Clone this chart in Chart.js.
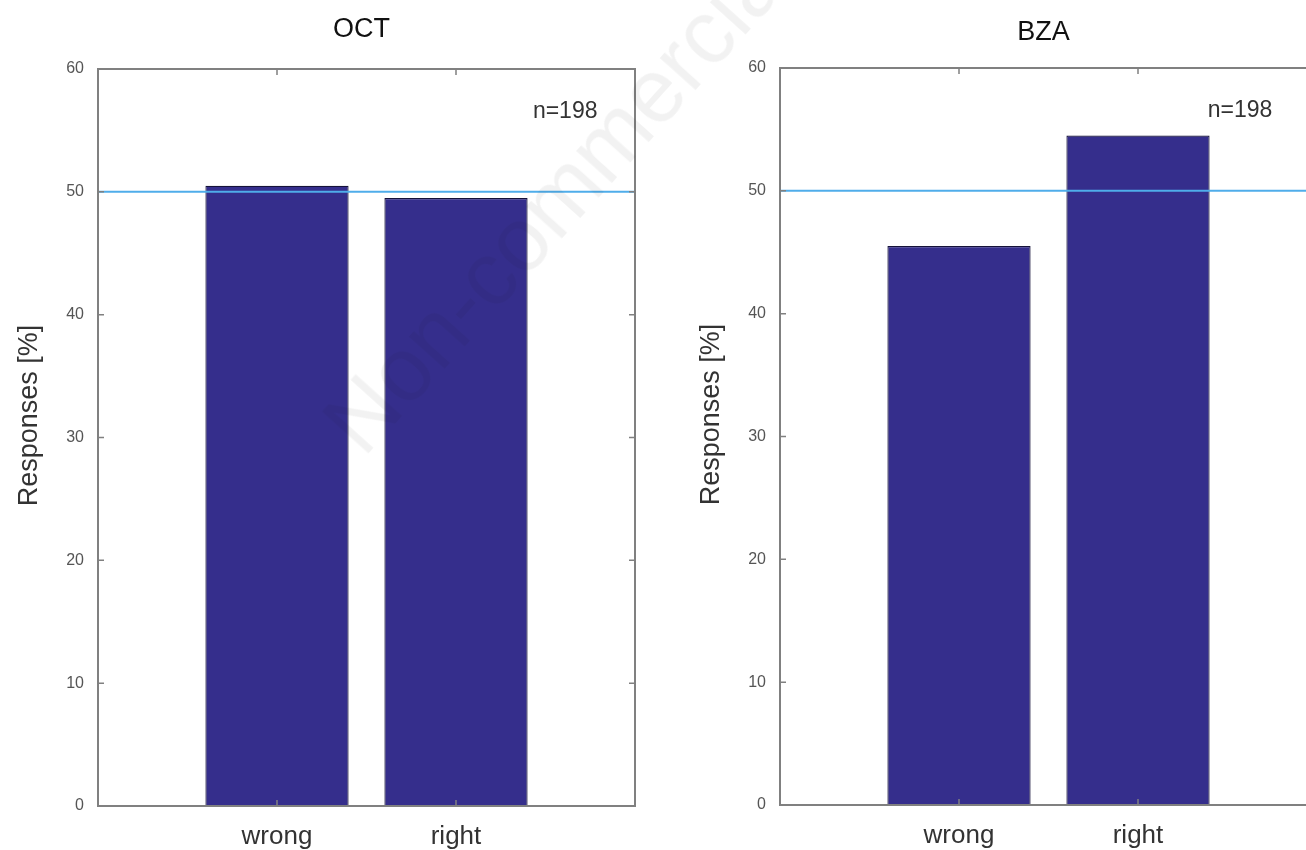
<!DOCTYPE html>
<html>
<head>
<meta charset="utf-8">
<script src="https://cdn.jsdelivr.net/npm/chart.js@4/dist/chart.umd.min.js"></script>
<style>
  html, body { margin: 0; padding: 0; background: #fff; overflow: hidden; }
  body { width: 1306px; height: 850px; position: relative; }
  .panel { position: absolute; width: 660px; height: 850px; }
  #wm {
    position: absolute; left: 560px; top: 195px;
    transform: translate(-50%, -50%) rotate(-48deg);
    font: 90px "Liberation Sans", Arial, sans-serif;
    color: rgba(0, 0, 0, 0.05); white-space: nowrap; pointer-events: none;
  }
</style>
</head>
<body>
<div class="panel" style="left:0;top:0"><canvas id="octChart"></canvas></div>
<div class="panel" style="left:682px;top:-1px"><canvas id="bzaChart"></canvas></div>
<div id="wm">Non-commercial</div>
<script>
// data
const categories = ["wrong", "right"];
const categoryPos = [1, 2];
const octValues = [50.5, 49.5];
const bzaValues = [45.5, 54.5];
const chanceLevel = 50;
const yTicks = [0, 10, 20, 30, 40, 50, 60];
const sampleLabel = "n=198";
const yLabel = "Responses [%]";

const FONT = "'Liberation Sans', Arial, sans-serif";
const AXIS_GREY = "#808080";

// MATLAB style box with inward ticks, titles and the n= label
const boxPlugin = {
  id: "matlabBox",
  afterDatasetsDraw(chart) {
    const { ctx, chartArea: a, scales } = chart;
    const o = chart.options.plugins.matlabBox;
    ctx.save();
    ctx.strokeStyle = AXIS_GREY;
    ctx.lineWidth = 2;
    ctx.strokeRect(a.left, a.top, a.right - a.left, a.bottom - a.top);
    ctx.lineWidth = 1.5;
    ctx.beginPath();
    yTicks.forEach(v => {
      const y = scales.y.getPixelForValue(v);
      ctx.moveTo(a.left, y); ctx.lineTo(a.left + 6, y);
      ctx.moveTo(a.right, y); ctx.lineTo(a.right - 6, y);
    });
    categoryPos.forEach(v => {
      const x = scales.x.getPixelForValue(v);
      ctx.moveTo(x, a.top); ctx.lineTo(x, a.top + 6);
      ctx.moveTo(x, a.bottom); ctx.lineTo(x, a.bottom - 6);
    });
    ctx.stroke();

    ctx.textAlign = "center";
    ctx.textBaseline = "middle";
    ctx.fillStyle = "#333";
    ctx.font = "23px " + FONT;
    ctx.fillText(sampleLabel, scales.x.getPixelForValue(o.noteX), scales.y.getPixelForValue(56.5));

    ctx.fillStyle = "#111";
    ctx.font = "27px " + FONT;
    ctx.fillText(o.title, (a.left + a.right) / 2 - 5, o.titleY);

    ctx.fillStyle = "#333";
    ctx.translate(30, (a.top + a.bottom) / 2 - 22);
    ctx.rotate(-Math.PI / 2);
    ctx.fillText(yLabel, 0, 0);
    ctx.restore();
  }
};

function makeChart(id, title, values, noteX, titleY) {
  const ctx = document.getElementById(id).getContext("2d");
  return new Chart(ctx, {
    type: "bar",
    data: {
      datasets: [
        {
          type: "line",
          data: [{ x: 0, y: chanceLevel }, { x: 3, y: chanceLevel }],
          borderColor: "#4fadea",
          borderWidth: 2,
          pointRadius: 0,
          order: 0
        },
        {
          type: "bar",
          data: categoryPos.map((x, i) => ({ x: x, y: values[i] })),
          backgroundColor: "#352e8c",
          borderColor: "#15123a",
          borderWidth: 1.2,
          barPercentage: 0.8,
          categoryPercentage: 1,
          order: 1
        }
      ]
    },
    plugins: [boxPlugin],
    options: {
      responsive: false,
      animation: false,
      layout: { padding: { left: 0, right: 25, top: 69, bottom: 0 } },
      plugins: {
        legend: { display: false },
        tooltip: { enabled: false },
        title: { display: false },
        matlabBox: { title: title, noteX: noteX, titleY: titleY }
      },
      scales: {
        x: {
          type: "linear",
          min: 0, max: 3,
          offset: false,
          grid: { display: false },
          border: { display: false },
          afterBuildTicks: s => { s.ticks = categoryPos.map(v => ({ value: v })); },
          afterFit: s => { s.height = 44; },
          ticks: {
            callback: v => categories[categoryPos.indexOf(v)],
            color: "#333",
            padding: 7,
            font: { family: FONT, size: 26 }
          }
        },
        y: {
          min: 0, max: 60,
          grid: { display: false },
          border: { display: false },
          afterBuildTicks: s => { s.ticks = yTicks.map(v => ({ value: v })); },
          afterFit: s => { s.width = 98; },
          ticks: {
            color: "#555",
            padding: 6,
            font: { family: FONT, size: 16 }
          }
        }
      }
    }
  });
}

function sizeCanvas(id) {
  const c = document.getElementById(id);
  c.width = 660; c.height = 850;
  c.style.width = "660px"; c.style.height = "850px";
}
sizeCanvas("octChart");
sizeCanvas("bzaChart");

makeChart("octChart", "OCT", octValues, 2.61, 30);
makeChart("bzaChart", "BZA", bzaValues, 2.57, 34);
</script>
</body>
</html>
